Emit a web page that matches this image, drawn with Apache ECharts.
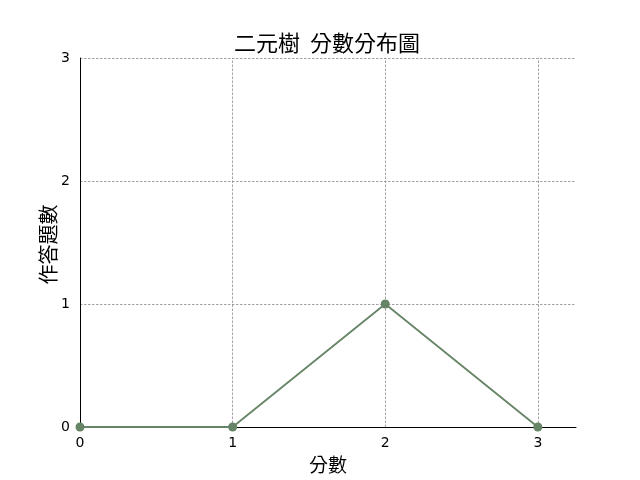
<!DOCTYPE html>
<html><head><meta charset="utf-8">
<script src="https://cdn.jsdelivr.net/npm/echarts@6/dist/echarts.min.js"></script>
<style>html,body{margin:0;padding:0;background:#fff}#c{width:640px;height:480px}</style>
</head><body><div id="c"></div>
<script>
const titleText = '二元樹  分數分布圖';
const xName = '分數';
const yName = '作答題數';
const scores = [0, 1, 2, 3];
const counts = [0, 0, 1, 0];
const xTicks = [0, 1, 2, 3];
const yTicks = [0, 1, 2, 3];

const chart = echarts.init(document.getElementById('c'), null, {renderer: 'canvas'});
const lineColor = '#668566';
const gridStyle = {color: '#8a8a8a', width: 0.8, type: [2.5, 1.5]};
chart.setOption({
  animation: false,
  title: {
    text: titleText, left: 322, top: 27, textAlign: 'center',
    textStyle: {fontFamily: 'Noto Sans CJK TC', fontSize: 22, fontWeight: 'normal', color: '#000'}
  },
  grid: {left: 80, right: 64, top: 58, bottom: 53, containLabel: false},
  xAxis: {
    type: 'value', min: 0, max: 3.25, interval: 1,
    name: xName, nameLocation: 'middle', nameGap: 26,
    nameTextStyle: {fontFamily: 'Noto Sans CJK TC', fontSize: 19, color: '#000'},
    axisLine: {show: true, onZero: false, lineStyle: {color: '#000', width: 1}},
    axisTick: {show: false},
    splitLine: {show: false},
    axisLabel: {
      margin: 9, fontFamily: 'DejaVu Sans', fontSize: 14, color: '#000',
      formatter: v => (xTicks.indexOf(v) >= 0 ? String(v) : '')
    }
  },
  yAxis: {
    type: 'value', min: 0, max: 3, interval: 1,
    name: yName, nameLocation: 'middle', nameGap: 22, nameRotate: 90,
    nameMoveOverlap: false,
    nameTextStyle: {fontFamily: 'Noto Sans CJK TC', fontSize: 20, color: '#000', padding: [0, 4, 0, 0]},
    axisLine: {show: true, lineStyle: {color: '#000', width: 1}},
    axisTick: {show: false},
    splitLine: {show: true, lineStyle: gridStyle},
    axisLabel: {
      margin: 10, fontFamily: 'DejaVu Sans', fontSize: 14, color: '#000',
      formatter: v => (yTicks.indexOf(v) >= 0 ? String(v) : '')
    }
  },
  series: [{
    type: 'line',
    data: scores.map((s, i) => [s, counts[i]]),
    symbol: 'circle', symbolSize: 9,
    itemStyle: {color: lineColor},
    lineStyle: {color: lineColor, width: 1.8},
    z: 5,
    markLine: {
      silent: true, symbol: ['none', 'none'], label: {show: false},
      lineStyle: gridStyle, z: 1,
      data: xTicks.filter(v => v > 0).map(v => ({xAxis: v}))
    }
  }]
});
</script></body></html>
